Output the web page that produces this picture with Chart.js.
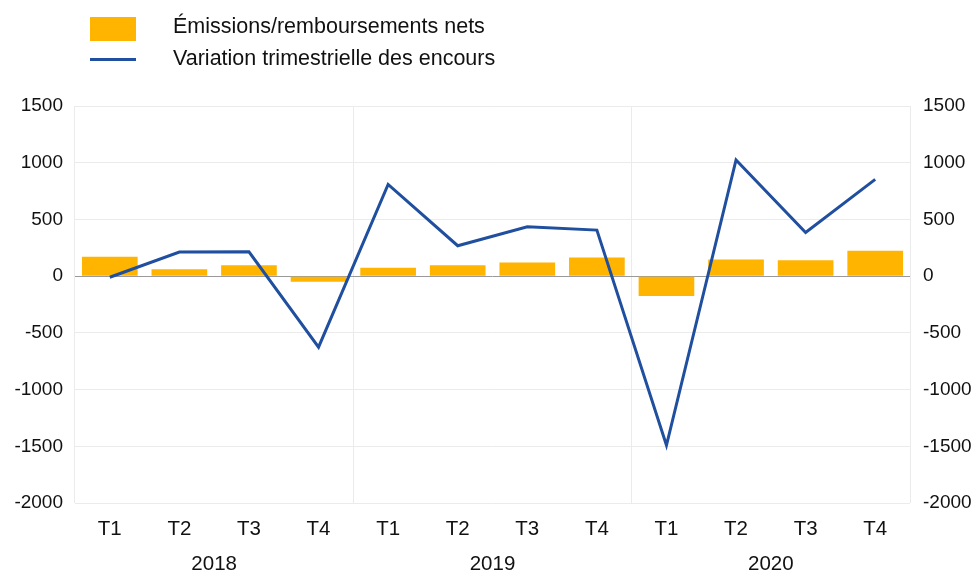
<!DOCTYPE html>
<html>
<head>
<meta charset="utf-8">
<script src="https://cdn.jsdelivr.net/npm/chart.js@4"></script>
<style>
  body { margin: 0; background: #fff; }
  #wrap { position: relative; width: 974px; height: 573px; }
  #legend { position: absolute; left: 90px; top: 10px; font-family: "Liberation Sans", Arial, sans-serif; font-size: 21.5px; color: #111; }
  .item { display: flex; align-items: center; height: 32px; }
  .swatch { width: 46px; margin-right: 37px; position: relative; }
</style>
</head>
<body>
<div id="wrap">
  <canvas id="chart" width="974" height="573"></canvas>
  <div id="legend">
    <div class="item"><span class="swatch" style="height:24px;top:3px;background:#ffb400"></span>Émissions/remboursements nets</div>
    <div class="item"><span class="swatch" style="height:3px;top:1px;background:#1f4f9e"></span>Variation trimestrielle des encours</div>
  </div>
</div>
<script>
const quarters = ["T1", "T2", "T3", "T4", "T1", "T2", "T3", "T4", "T1", "T2", "T3", "T4"];
const years = ["2018", "2019", "2020"];
const emissions = [170, 60, 97, -50, 73, 97, 121, 165, -174, 147, 141, 223];
const variation = [-10, 212, 215, -626, 809, 268, 435, 406, -1491, 1024, 385, 853];
const yTicks = { min: -2000, max: 1500, step: 500 };

const fontFamily = "'Liberation Sans', Arial, sans-serif";
const yFont = { family: fontFamily, size: 19 };
const xFont = { family: fontFamily, size: 20.5 };

// light grid, darker zero line
const gridColor = (ctx) => (ctx.tick && ctx.tick.value === 0 ? "#9a9a9a" : "#ebebeb");
const plain = (v) => String(v);

new Chart(document.getElementById("chart"), {
  type: "bar",
  data: {
    labels: quarters,
    datasets: [
      {
        type: "line",
        label: "Variation trimestrielle des encours",
        data: variation,
        borderColor: "#1f4f9e",
        borderWidth: 3,
        pointRadius: 0,
        tension: 0,
        order: 0,
      },
      {
        label: "Émissions/remboursements nets",
        data: emissions,
        backgroundColor: "#ffb400",
        categoryPercentage: 1,
        barPercentage: 0.8,
        order: 1,
      },
    ],
  },
  options: {
    responsive: false,
    animation: false,
    layout: { padding: { top: 106, left: 0, right: 0, bottom: 0 } },
    plugins: { legend: { display: false }, tooltip: { enabled: false } },
    scales: {
      x: {
        grid: { display: false, drawTicks: false },
        border: { display: false },
        ticks: { font: xFont, color: "#111", padding: 14 },
        afterFit: (s) => { s.height = 38.6; },
      },
      x2: {
        type: "category",
        labels: years,
        position: "bottom",
        offset: true,
        grid: { offset: true, color: "#ebebeb", drawTicks: false },
        border: { display: false },
        ticks: { font: xFont, color: "#111", padding: 10 },
        afterFit: (s) => { s.height = 31.4; },
      },
      y: {
        position: "left",
        min: yTicks.min,
        max: yTicks.max,
        ticks: { stepSize: yTicks.step, font: yFont, color: "#111", padding: 12, callback: plain },
        grid: { color: gridColor, drawTicks: false },
        border: { display: false },
        afterFit: (s) => { s.width = 75; },
      },
      y1: {
        position: "right",
        min: yTicks.min,
        max: yTicks.max,
        ticks: { stepSize: yTicks.step, font: yFont, color: "#111", padding: 13, callback: plain },
        grid: { display: false, drawTicks: false },
        border: { display: false },
        afterFit: (s) => { s.width = 64; },
      },
    },
  },
});
</script>
</body>
</html>
